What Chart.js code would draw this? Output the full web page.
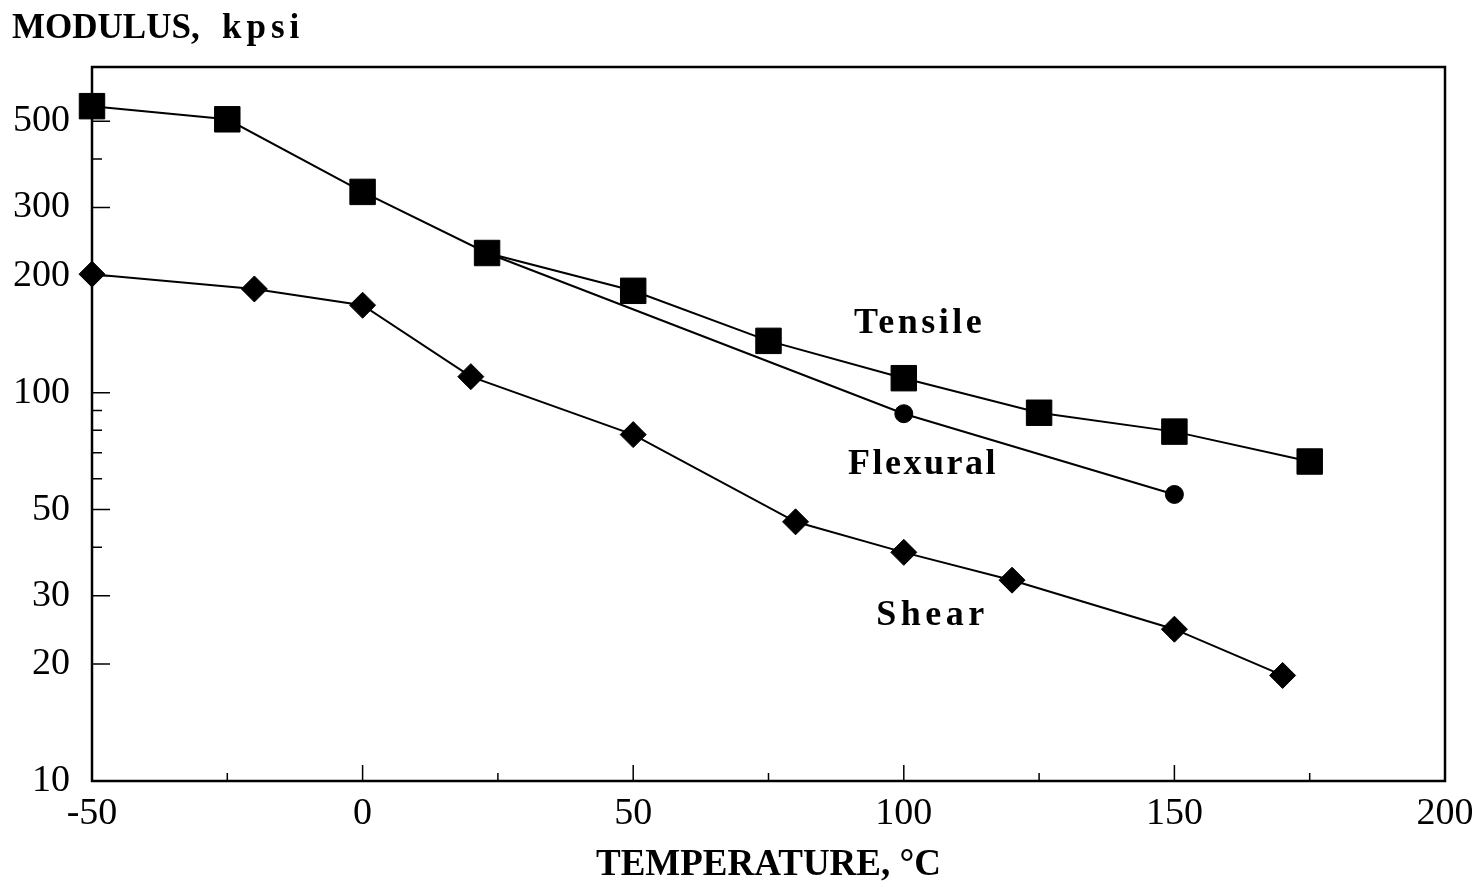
<!DOCTYPE html>
<html>
<head>
<meta charset="utf-8">
<script src="https://cdn.jsdelivr.net/npm/chart.js@4.4.1/dist/chart.umd.min.js"></script>
<style>
html,body{margin:0;padding:0;background:#fff;}
#wrap{width:1480px;height:883px;position:relative;}
</style>
</head>
<body>
<div id="wrap"><canvas id="c" width="1480" height="883"></canvas></div>
<script>
// ---- data ----
const tensileT   = [-50, -25, 0, 23, 50, 75, 100, 125, 150, 175];
const tensileMod = [547, 506, 329, 229, 183, 136, 109, 88.8, 79.4, 66.5];
const flexuralT   = [23, 100, 150];
const flexuralMod = [229, 88.3, 54.7];
const shearT   = [-50, -20, 0, 20, 50, 80, 100, 120, 150, 170];
const shearMod = [202, 185, 168, 110, 78, 46.5, 38.8, 32.9, 24.6, 18.7];

const yLabelTicks = [10, 20, 30, 50, 100, 200, 300, 500];
const yMinorTicks = [40, 60, 70, 80, 90, 400];
const xMajorTicks = [-50, 0, 50, 100, 150, 200];
const xMinorTicks = [-25, 25, 75, 125, 175];
const seriesNames = ['Tensile', 'Flexural', 'Shear'];

const toPts = (xs, ys) => xs.map((x, i) => ({x: x, y: ys[i]}));

const SERIF = "'Liberation Serif', 'Times New Roman', serif";

const annot = [
  {text: seriesNames[0], x: 90.8, y: 142.6, sp: '3.5px'},
  {text: seriesNames[1], x: 89.7, y: 61.9, sp: '2.5px'},
  {text: seriesNames[2], x: 94.9, y: 25.2, sp: '4.5px'}
];

const framePlugin = {
  id: 'frame',
  afterDraw(chart) {
    const ctx = chart.ctx;
    const a = chart.chartArea;
    const xs = chart.scales.x, ys = chart.scales.y;
    ctx.save();
    ctx.strokeStyle = '#000';
    ctx.lineWidth = 2.5;
    ctx.strokeRect(a.left, a.top, a.right - a.left, a.bottom - a.top);
    ctx.lineWidth = 1.5;
    ctx.beginPath();
    yLabelTicks.forEach(v => { const p = ys.getPixelForValue(v); ctx.moveTo(a.left, p); ctx.lineTo(a.left + 18, p); });
    yMinorTicks.forEach(v => { const p = ys.getPixelForValue(v); ctx.moveTo(a.left, p); ctx.lineTo(a.left + 10, p); });
    xMajorTicks.forEach(v => { const p = xs.getPixelForValue(v); ctx.moveTo(p, a.bottom); ctx.lineTo(p, a.bottom - 16); });
    xMinorTicks.forEach(v => { const p = xs.getPixelForValue(v); ctx.moveTo(p, a.bottom); ctx.lineTo(p, a.bottom - 8); });
    ctx.stroke();
    ctx.fillStyle = '#000';
    ctx.font = 'bold 36px ' + SERIF;
    ctx.textBaseline = 'alphabetic';
    ctx.textAlign = 'left';
    annot.forEach(l => { ctx.letterSpacing = l.sp; ctx.fillText(l.text, xs.getPixelForValue(l.x), ys.getPixelForValue(l.y)); });
    ctx.font = 'bold 35px ' + SERIF;
    ctx.letterSpacing = '0px';
    ctx.fillText('MODULUS,', 12, 38);
    ctx.letterSpacing = '5px';
    ctx.fillText('kpsi', 222, 38);
    ctx.restore();
  }
};

const ds = (name, pts, style, r) => ({
  label: name, data: pts, showLine: true, clip: false,
  borderColor: '#000', backgroundColor: '#000', borderWidth: 2,
  pointStyle: style, pointRadius: r, pointBorderWidth: 1, pointHoverRadius: r
});

new Chart(document.getElementById('c'), {
  type: 'scatter',
  data: {
    datasets: [
      ds(seriesNames[0], toPts(tensileT, tensileMod), 'rect', 18),
      ds(seriesNames[1], toPts(flexuralT, flexuralMod), 'circle', 9),
      ds(seriesNames[2], toPts(shearT, shearMod), 'rectRot', 13)
    ]
  },
  options: {
    responsive: false,
    animation: false,
    events: [],
    layout: {padding: {left: 0, right: 35, top: 67, bottom: 0}},
    plugins: {legend: {display: false}, tooltip: {enabled: false}, title: {display: false}},
    scales: {
      x: {
        type: 'linear', min: -50, max: 200,
        afterFit(s) { s.height = 102; s.paddingLeft = 0; s.paddingRight = 0; },
        afterBuildTicks(s) { s.ticks = xMajorTicks.map(v => ({value: v})); },
        grid: {display: false, drawTicks: false},
        border: {display: false},
        ticks: {color: '#000', font: {family: SERIF, size: 38}, padding: 10, maxRotation: 0,
                callback: v => String(v)},
        title: {display: true, text: 'TEMPERATURE, °C', color: '#000',
                font: {family: SERIF, size: 37, weight: 'bold'}, padding: {top: 0, bottom: -5}}
      },
      y: {
        type: 'logarithmic', min: 10, max: 690,
        afterFit(s) { s.width = 92; },
        afterBuildTicks(s) { s.ticks = yLabelTicks.map(v => ({value: v})); },
        grid: {display: false, drawTicks: false},
        border: {display: false},
        ticks: {color: '#000', font: {family: SERIF, size: 38}, padding: 22,
                callback: v => String(v)}
      }
    }
  },
  plugins: [framePlugin]
});
</script>
</body>
</html>
